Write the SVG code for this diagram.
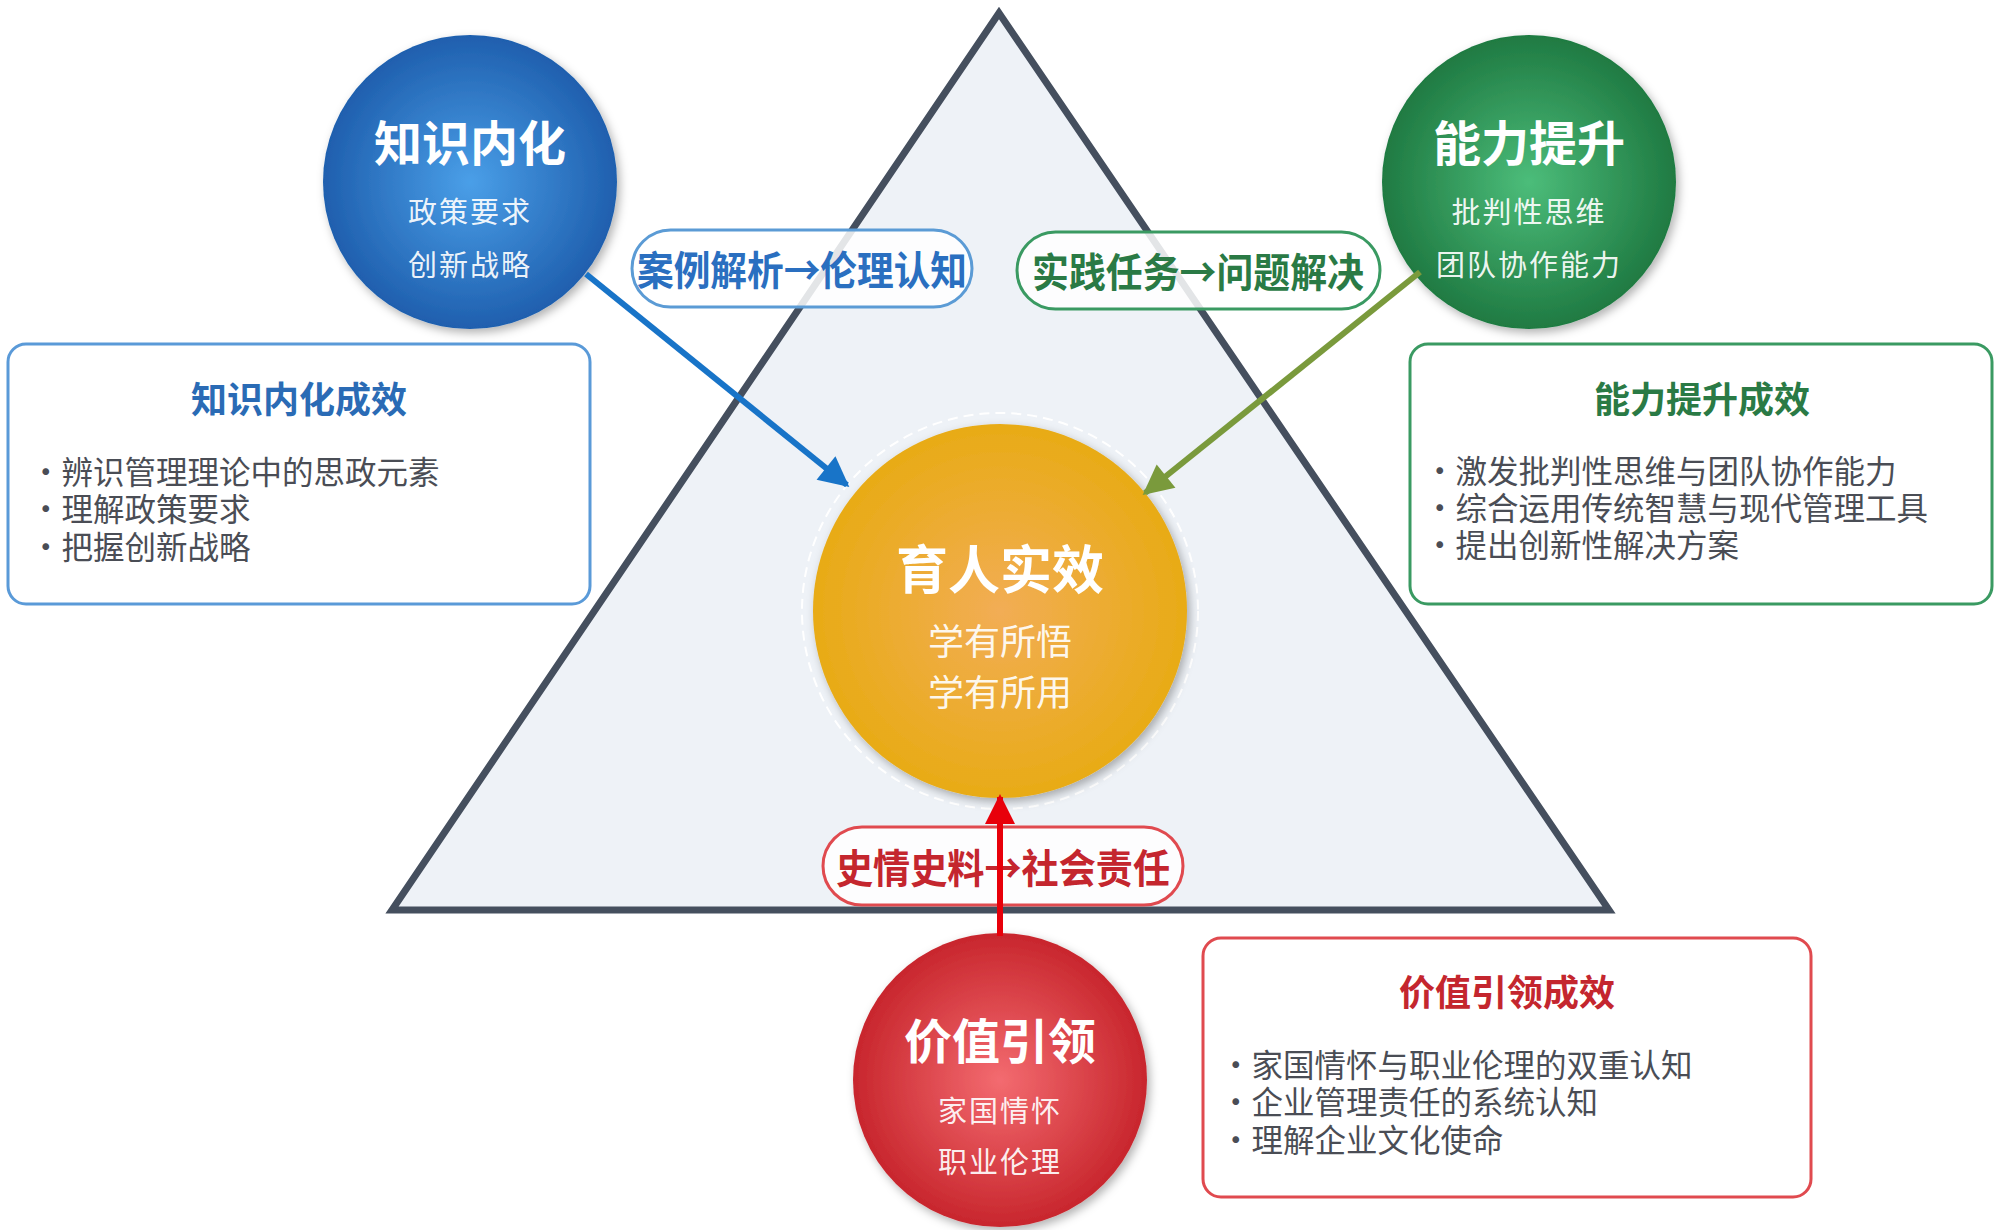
<svg xmlns="http://www.w3.org/2000/svg" width="2000" height="1230" viewBox="0 0 2000 1230">
<defs>
<radialGradient id="gBlue" cx="50%" cy="50%" r="50%"><stop offset="0" stop-color="#4a9fe8"/><stop offset="1" stop-color="#1f5fae"/></radialGradient>
<radialGradient id="gGreen" cx="50%" cy="50%" r="50%"><stop offset="0" stop-color="#4cbd7a"/><stop offset="1" stop-color="#1f7a42"/></radialGradient>
<radialGradient id="gOrange" cx="50%" cy="50%" r="50%"><stop offset="0" stop-color="#f2ad55"/><stop offset="1" stop-color="#e8ab16"/></radialGradient>
<radialGradient id="gRed" cx="50%" cy="50%" r="50%"><stop offset="0" stop-color="#f36b70"/><stop offset="1" stop-color="#c8262d"/></radialGradient>
<filter id="sh" x="-20%" y="-20%" width="140%" height="140%"><feDropShadow dx="3" dy="4" stdDeviation="5" flood-color="#000" flood-opacity="0.3"/></filter>
<marker id="mBlue" viewBox="0 0 10 10" refX="9" refY="5" markerWidth="6" markerHeight="5" orient="auto" markerUnits="strokeWidth"><path d="M0,0 L10,5 L0,10 z" fill="#1874c8"/></marker>
<marker id="mGreen" viewBox="0 0 10 10" refX="9" refY="5" markerWidth="6" markerHeight="5" orient="auto" markerUnits="strokeWidth"><path d="M0,0 L10,5 L0,10 z" fill="#7a9a3c"/></marker>
<marker id="mRed" viewBox="0 0 10 10" refX="9" refY="5" markerWidth="6" markerHeight="5" orient="auto" markerUnits="strokeWidth"><path d="M0,0 L10,5 L0,10 z" fill="#e8000a"/></marker>
</defs>
<style>
text{font-family:"Noto Sans CJK SC","Noto Sans",sans-serif;dominant-baseline:central}
.ct{font-size:48px;font-weight:700;fill:#fff;text-anchor:middle}
.cs{font-size:29px;fill:#fff;fill-opacity:0.93;text-anchor:middle;letter-spacing:2px}
.box{fill:#fff;stroke-width:3}
.bt{font-size:36px;font-weight:700;text-anchor:middle}
.bl{font-size:31.5px;fill:#4a4d55}
.pill{fill:#fff;fill-opacity:0.85;stroke-width:3}
.pt{font-size:40px;font-weight:700;text-anchor:middle}
</style>
<rect width="2000" height="1230" fill="#fff"/>
<polygon id="triangle" points="999,13 392,910 1609,910" fill="#eef2f7" stroke="#454f5e" stroke-width="7" stroke-linejoin="miter"/>

<g id="node-knowledge">
<circle cx="470" cy="182" r="147" fill="url(#gBlue)" filter="url(#sh)"/>
<text class="ct" x="470" y="140">知识内化</text>
<text class="cs" x="470" y="210">政策要求</text>
<text class="cs" x="470" y="263">创新战略</text>
</g>
<g id="node-ability">
<circle cx="1529" cy="182" r="147" fill="url(#gGreen)" filter="url(#sh)"/>
<text class="ct" x="1529" y="140">能力提升</text>
<text class="cs" x="1529" y="210">批判性思维</text>
<text class="cs" x="1529" y="263">团队协作能力</text>
</g>
<g id="node-center">
<circle cx="1000" cy="611" r="198" fill="none" stroke="#fff" stroke-width="2" stroke-dasharray="10,6"/>
<circle cx="1000" cy="611" r="187" fill="url(#gOrange)" filter="url(#sh)"/>
<text class="ct" x="1000" y="566" style="font-size:52px">育人实效</text>
<text class="cs" x="1000" y="639" style="font-size:36px;letter-spacing:0">学有所悟</text>
<text class="cs" x="1000" y="690" style="font-size:36px;letter-spacing:0">学有所用</text>
</g>
<g id="node-value">
<circle cx="1000" cy="1080" r="147" fill="url(#gRed)" filter="url(#sh)"/>
<text class="ct" x="1000" y="1038">价值引领</text>
<text class="cs" x="1000" y="1109">家国情怀</text>
<text class="cs" x="1000" y="1160">职业伦理</text>
</g>

<g id="box-knowledge">
<rect class="box" x="8" y="344" width="582" height="260" rx="18" stroke="#5a9ad8"/>
<text class="bt" x="299" y="397" fill="#2a6bb5">知识内化成效</text>
<text class="bl" x="30" y="470">•辨识管理理论中的思政元素</text>
<text class="bl" x="30" y="507">•理解政策要求</text>
<text class="bl" x="30" y="545">•把握创新战略</text>
</g>
<g id="box-ability">
<rect class="box" x="1410" y="344" width="582" height="260" rx="18" stroke="#3a9a62"/>
<text class="bt" x="1702" y="397" fill="#2a7a45">能力提升成效</text>
<text class="bl" x="1424" y="469">•激发批判性思维与团队协作能力</text>
<text class="bl" x="1424" y="506">•综合运用传统智慧与现代管理工具</text>
<text class="bl" x="1424" y="543">•提出创新性解决方案</text>
</g>
<g id="box-value">
<rect class="box" x="1203" y="938" width="608" height="259" rx="18" stroke="#e04a4f"/>
<text class="bt" x="1507" y="990" fill="#c4262e">价值引领成效</text>
<text class="bl" x="1220" y="1063">•家国情怀与职业伦理的双重认知</text>
<text class="bl" x="1220" y="1100">•企业管理责任的系统认知</text>
<text class="bl" x="1220" y="1138">•理解企业文化使命</text>
</g>

<g id="pill-case">
<rect class="pill" x="632" y="230" width="340" height="77" rx="38.5" stroke="#5b9bd5"/>
<text class="pt" x="802" y="268" fill="#2a6fc0" textLength="330" lengthAdjust="spacingAndGlyphs">案例解析→伦理认知</text>
</g>
<g id="pill-practice">
<rect class="pill" x="1017" y="232" width="363" height="77" rx="38.5" stroke="#3a9a62"/>
<text class="pt" x="1198" y="270" fill="#2a7a45" textLength="332" lengthAdjust="spacingAndGlyphs">实践任务→问题解决</text>
</g>
<g id="pill-history">
<rect class="pill" x="823" y="827" width="360" height="78" rx="39" stroke="#e04a4f"/>
<text class="pt" x="1003" y="866" fill="#c4262e" textLength="334" lengthAdjust="spacingAndGlyphs">史情史料→社会责任</text>
</g>

<g id="connectors">
<line x1="586" y1="274" x2="847" y2="485" stroke="#1874c8" stroke-width="6" marker-end="url(#mBlue)"/>
<line x1="1420" y1="272" x2="1145" y2="493" stroke="#7a9a3c" stroke-width="6" marker-end="url(#mGreen)"/>
<line x1="1000" y1="936" x2="1000" y2="797" stroke="#e8000a" stroke-width="6" marker-end="url(#mRed)"/>
</g>
</svg>
